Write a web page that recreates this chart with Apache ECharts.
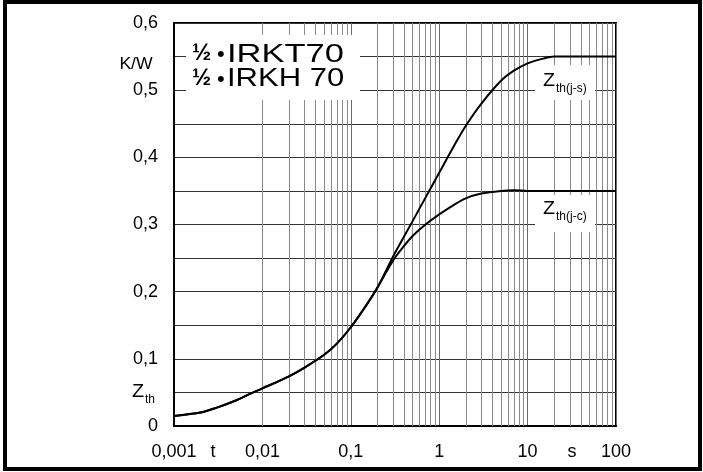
<!DOCTYPE html>
<html>
<head>
<meta charset="utf-8">
<script src="https://cdn.jsdelivr.net/npm/echarts@6/dist/echarts.min.js"></script>
<style>
html,body{margin:0;padding:0;background:#fff;}
#chart{width:703px;height:472px;}
</style>
</head>
<body>
<div id="chart"></div>
<script>
// ---- data ----
var tCommon = [0.001,0.002,0.003,0.005,0.007,0.01,0.02,0.03,0.05,0.07,0.1,0.15,0.2];
var zCommon = [0.015,0.020,0.027,0.038,0.047,0.056,0.074,0.087,0.106,0.123,0.147,0.180,0.206];
var tTail   = [0.3,0.4,0.5,0.7,1,1.5,2,3,5,7,10,15,20,50,100];
var zJC     = [0.246,0.268,0.283,0.300,0.315,0.330,0.339,0.346,0.350,0.351,0.350,0.350,0.350,0.350,0.350];
var zJS     = [0.252,0.282,0.305,0.340,0.377,0.419,0.447,0.480,0.514,0.529,0.540,0.547,0.550,0.550,0.550];
var xTickLabels = ['0,001','0,01','0,1','1','10','100'];
var yTickLabels = ['0','0,1','0,2','0,3','0,4','0,5','0,6'];
var decades = [0.001,0.01,0.1,1,10];
var minorMult = [2,3,4,5,6,7,8,9];

function pairs(ts, zs){ return ts.map(function(t,i){ return [t, zs[i]]; }); }
var dataJC = pairs(tCommon, zCommon).concat(pairs(tTail, zJC));
var dataJS = pairs(tCommon, zCommon).concat(pairs(tTail, zJS));

var minorLines = [];
decades.forEach(function(d){ minorMult.forEach(function(m){ minorLines.push({xAxis: d*m}); }); });

var FONT = '"Liberation Sans", Arial, sans-serif';
var chart = echarts.init(document.getElementById('chart'), null, {renderer:'canvas'});

function txt(text, x, y, size, opts){
  opts = opts || {};
  return {
    type:'text', x:x, y:y, z:20, scaleX: opts.sx || 1, scaleY: 1,
    style:{ text:text, x:0, y:0, fill:'#000', font: (opts.weight||'normal') + ' ' + size + 'px ' + FONT,
            align: opts.align || 'left', verticalAlign:'middle' }
  };
}

var option = {
  animation:false,
  backgroundColor:'#fff',
  grid:{ left:174, right:87, top:23, bottom:46, show:true, borderColor:'#000', borderWidth:2, backgroundColor:'transparent' },
  xAxis:{
    type:'log', logBase:10, min:0.001, max:100,
    axisLine:{ show:true, lineStyle:{ color:'#000', width:2 } },
    axisTick:{ show:false },
    minorTick:{ show:false },
    splitLine:{ show:true, lineStyle:{ color:'#6a6a6a', width:1 } },
    axisLabel:{ color:'#000', fontSize:18, fontFamily:FONT, margin:17,
      formatter:function(v, i){ return xTickLabels[i] !== undefined ? xTickLabels[i] : ''; } }
  },
  yAxis:{
    type:'value', min:0, max:0.6, interval:0.05,
    axisLine:{ show:true, lineStyle:{ color:'#000', width:2 } },
    axisTick:{ show:false },
    splitLine:{ show:true, lineStyle:{ color:'#333', width:1 } },
    axisLabel:{ color:'#000', fontSize:18, fontFamily:FONT, margin:16,
      formatter:function(v, i){ return (i % 2 === 0) ? (yTickLabels[i/2] || '') : ''; } }
  },
  series:[
    { type:'line', name:'grid-minor', data:[], silent:true,
      markLine:{ silent:true, symbol:['none','none'], label:{show:false},
        lineStyle:{ color:'#8a8a8a', width:1, type:'solid' }, data:minorLines } },
    { type:'line', name:'Zth(j-c)', data:dataJC, smooth:0.3, showSymbol:false,
      lineStyle:{ color:'#000', width:2 }, z:5 },
    { type:'line', name:'Zth(j-s)', data:dataJS, smooth:0.3, showSymbol:false,
      lineStyle:{ color:'#000', width:2 }, z:5 }
  ],
  graphic:[
    { type:'rect', z:10, shape:{ x:186, y:35, width:174, height:65 }, style:{ fill:'#fff' } },
    { type:'rect', z:10, shape:{ x:535, y:65, width:60, height:35 }, style:{ fill:'#fff' } },
    { type:'rect', z:10, shape:{ x:535, y:195, width:60, height:37 }, style:{ fill:'#fff' } },
    { type:'rect', z:30, shape:{ x:5, y:2, width:695, height:467 }, style:{ fill:'none', stroke:'#000', lineWidth:4 } },
    txt('½', 192, 54, 23, {weight:'bold'}),
    txt('•', 217, 55, 22),
    txt('IRKT70', 227, 55, 25, {sx:1.38}),
    txt('½', 192, 79, 23, {weight:'bold'}),
    txt('•', 217, 80, 22),
    txt('IRKH 70', 227, 79, 25, {sx:1.24}),
    txt('Z', 543, 81, 18, {sx:1.1}),
    txt('th(j-s)', 556, 89, 12),
    txt('Z', 543, 209, 18, {sx:1.1}),
    txt('th(j-c)', 556, 217, 12),
    txt('K/W', 136, 65, 16, {align:'center', sx:1.1}),
    txt('Z', 132, 392, 18, {sx:1.1}),
    txt('th', 145, 400, 12),
    txt('t', 213, 452, 18, {align:'center'}),
    txt('s', 572, 452, 18, {align:'center'})
  ]
};
chart.setOption(option);
</script>
</body>
</html>
